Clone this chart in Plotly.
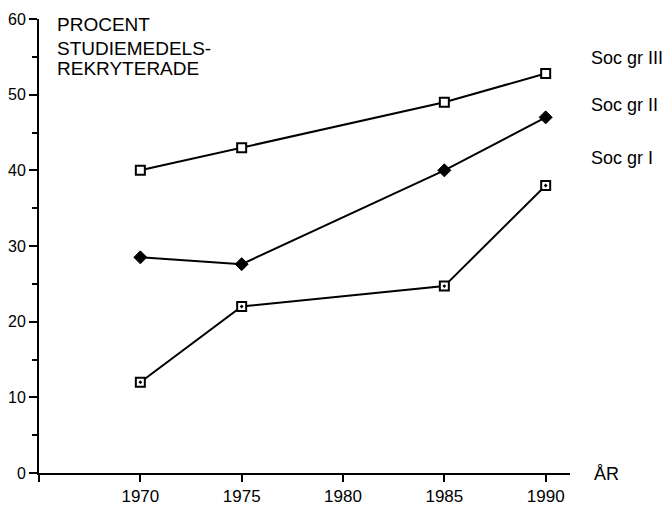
import plotly.graph_objects as go

years = [1970, 1975, 1985, 1990]
soc_gr_III = [40, 43, 49, 52.8]
soc_gr_II = [28.5, 27.6, 40, 47]
soc_gr_I = [12, 22, 24.7, 38]

x_tickvals = [1965, 1970, 1975, 1980, 1985, 1990]
x_ticktext = ["", "1970", "1975", "1980", "1985", "1990"]
y_tickvals = [0, 10, 20, 30, 40, 50, 60]

series_labels = ["Soc gr III", "Soc gr II", "Soc gr I"]
y_title_lines = ["PROCENT", "STUDIEMEDELS-", "REKRYTERADE"]

FONT = "Liberation Sans, Arial, sans-serif"

fig = go.Figure()
fig.add_trace(go.Scatter(
    x=years, y=soc_gr_I, mode="lines+markers",
    line=dict(color="black", width=2),
    marker=dict(symbol="square-dot", size=9, color="white",
                line=dict(color="black", width=2)),
    cliponaxis=False, showlegend=False))
fig.add_trace(go.Scatter(
    x=years, y=soc_gr_II, mode="lines+markers",
    line=dict(color="black", width=2),
    marker=dict(symbol="diamond", size=10, color="black",
                line=dict(color="black", width=1)),
    cliponaxis=False, showlegend=False))
fig.add_trace(go.Scatter(
    x=years, y=soc_gr_III, mode="lines+markers",
    line=dict(color="black", width=2),
    marker=dict(symbol="square", size=9, color="white",
                line=dict(color="black", width=2)),
    cliponaxis=False, showlegend=False))

annotations = []
for label, yp in zip(series_labels, [0.914, 0.810, 0.694]):
    annotations.append(dict(x=1.036, y=yp, xref="paper", yref="paper", text=label,
                            showarrow=False, xanchor="left", yanchor="middle",
                            font=dict(family=FONT, size=18, color="black")))
for line, yp in zip(y_title_lines, [0.988, 0.935, 0.890]):
    annotations.append(dict(x=0.031, y=yp, xref="paper", yref="paper", text=line,
                            showarrow=False, xanchor="left", yanchor="middle",
                            font=dict(family=FONT, size=19, color="black")))
annotations.append(dict(x=1.068, y=-0.002, xref="paper", yref="paper", text="ÅR",
                        showarrow=False, xanchor="center", yanchor="middle",
                        font=dict(family=FONT, size=18, color="black")))

fig.update_layout(
    width=663, height=501,
    margin=dict(l=31, r=101, t=11, b=36, autoexpand=False),
    paper_bgcolor="white", plot_bgcolor="white",
    font=dict(family=FONT, size=16, color="black"),
    annotations=annotations,
    showlegend=False,
)
fig.update_xaxes(
    range=[1965, 1991.2], showgrid=False, zeroline=False, automargin=False,
    showline=True, linecolor="black", linewidth=2,
    ticks="outside", ticklen=7, tickwidth=1.5, tickcolor="black",
    tickvals=x_tickvals, ticktext=x_ticktext,
    tickfont=dict(family=FONT, size=17, color="black"),
)
fig.update_yaxes(
    range=[0, 60], showgrid=False, zeroline=False, automargin=False,
    showline=True, linecolor="black", linewidth=2,
    ticks="outside", ticklen=8, tickwidth=1.5, tickcolor="black",
    tickvals=y_tickvals,
    tickfont=dict(family=FONT, size=16, color="black"),
    minor=dict(tickvals=[5, 15, 25, 35, 45, 55], ticks="outside",
               ticklen=5, tickwidth=1.5, tickcolor="black"),
)

fig.write_html("out.html")
